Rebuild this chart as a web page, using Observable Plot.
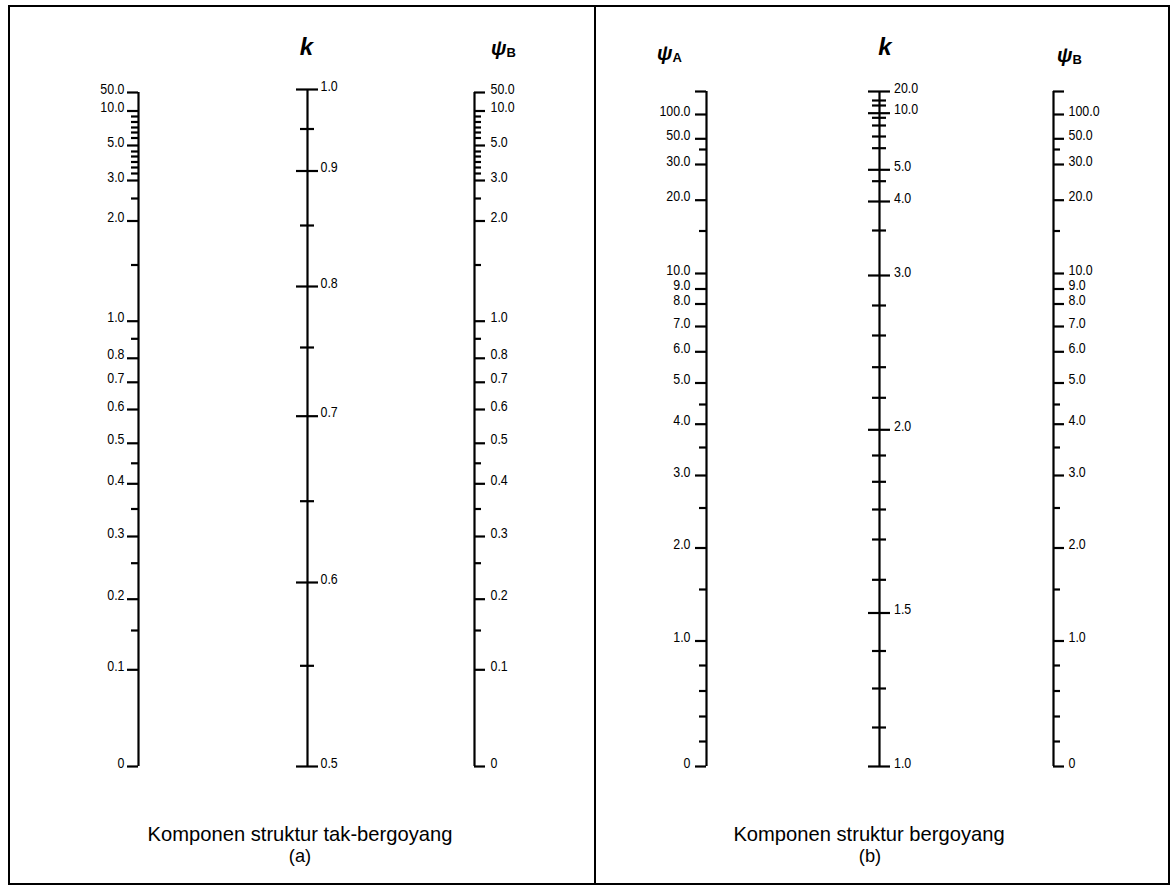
<!DOCTYPE html>
<html>
<head>
<meta charset="utf-8">
<script src="https://cdn.jsdelivr.net/npm/d3@7"></script>
<script src="https://cdn.jsdelivr.net/npm/@observablehq/plot@0.6"></script>
<style>
  html, body { margin: 0; padding: 0; background: #fff; }
  #fig { position: relative; width: 1176px; height: 891px; overflow: hidden; background: #fff; }
  .ax { position: absolute; top: 0; }
  #overlay { position: absolute; left: 0; top: 0; }
</style>
</head>
<body>
<div id="fig"></div>
<script>
// ---------------- data: tick values and labels of each scale ----------------
// Panel (a) – braced members (tak-bergoyang)
const psiTicksA  = [0,0.1,0.15,0.2,0.25,0.3,0.35,0.4,0.45,0.5,0.6,0.7,0.8,0.9,1,1.5,2,2.5,3,3.25,3.5,3.75,4,4.5,5,5.5,6,7,8,9,10,50];
const psiLabelsA = [0,0.1,0.2,0.3,0.4,0.5,0.6,0.7,0.8,1,2,3,5,10,50];
const kTicksA    = [0.5,0.55,0.6,0.65,0.7,0.75,0.8,0.85,0.9,0.95,1.0];
const kLabelsA   = [0.5,0.6,0.7,0.8,0.9,1.0];
// Panel (b) – sway members (bergoyang); 1000 stands for the unlabeled top end
const psiTicksB  = [0,0.2,0.4,0.6,0.8,1,1.5,2,2.5,3,3.5,4,4.5,5,6,7,8,9,10,15,20,30,40,50,100,1000];
const psiLabelsB = [0,1,2,3,4,5,6,7,8,9,10,20,30,50,100];
const kTicksB    = [1.0,1.2,1.3,1.4,1.5,1.55,1.6,1.7,1.8,1.9,2.0,2.2,2.4,2.6,2.8,3.0,3.5,4,4.5,5,6,7,8,9,10,12,15,20];
const kLabelsB   = [1,1.5,2,3,4,5,10,20];

// Titles / captions
const headers  = [
  {panel: "a", name: "k"},   {panel: "a", name: "ψ", sub: "B"},
  {panel: "b", name: "ψ", sub: "A"}, {panel: "b", name: "k"}, {panel: "b", name: "ψ", sub: "B"}
];
const captions = ["Komponen struktur tak-bergoyang", "(a)", "Komponen struktur bergoyang", "(b)"];

// ---------------- layout: nomograph graduation (px from top) ----------------
const psiScaleA = [766,669.3,630,598.7,562.7,536,508.5,483.3,462.8,442.8,409,381.8,357.8,338.3,320.7,264.5,220.5,198,180,173,167,161.5,156,151,145,137.5,132,127,121.5,116,110.5,92];
const kScaleA   = [766,665.3,582,500.7,415.7,347,286,225,170.5,128.5,89];
const psiScaleB = [766,741,716,690.5,665,640.5,589,547.5,507.5,475,447,423.7,404,382.5,351.3,326,303.5,288.5,273,230.5,199.7,164,149,138.3,114,91];
const kScaleB   = [766,727,688,650.5,612.5,579.3,539,509,481.3,455,429.3,397.3,366.7,335,305,275,230,201,180.7,169.3,147.7,136,125,117.3,112.7,105,100,91];

const axes = [
  {ticks: psiTicksA, labels: psiLabelsA, range: psiScaleA, cx: 138.3, side: -1, gap: 14},
  {ticks: kTicksA,   labels: kLabelsA,   range: kScaleA,   cx: 306.7, side: 0,  gap: 13},
  {ticks: psiTicksA, labels: psiLabelsA, range: psiScaleA, cx: 474,   side: 1,  gap: 16},
  {ticks: psiTicksB, labels: psiLabelsB, range: psiScaleB, cx: 706,   side: -1, gap: 16},
  {ticks: kTicksB,   labels: kLabelsB,   range: kScaleB,   cx: 879.3, side: 0,  gap: 14.5},
  {ticks: psiTicksB, labels: psiLabelsB, range: psiScaleB, cx: 1053.3, side: 1, gap: 15}
];

const FONT = '"Liberation Sans",Arial,Helvetica,sans-serif';
const NARROW_FACTOR = 0.8;   // mimic a condensed (Helvetica Narrow-like) face
const fmt = v => v === 0 ? "0" : v.toFixed(1);
const fig = document.getElementById("fig");
const HALF = 70;

function condense(root, factor) {
  root.querySelectorAll("text").forEach(t => {
    const w = t.getComputedTextLength();
    if (w > 0) {
      t.setAttribute("textLength", (w * factor).toFixed(2));
      t.setAttribute("lengthAdjust", "spacingAndGlyphs");
    }
  });
}

for (const a of axes) {
  const lo = d3.min(a.ticks), hi = d3.max(a.ticks);
  const isMajor = v => a.labels.includes(v) || v === lo || v === hi;
  const major = a.ticks.filter(isMajor);
  const minor = a.ticks.filter(v => !isMajor(v));
  const tick = len => a.side === 0 ? {x1: -len, x2: len} : {x1: 0, x2: a.side * len};
  const chart = Plot.plot({
    width: HALF * 2, height: 891, margin: 0,
    style: {background: "transparent", fontFamily: FONT},
    x: {type: "linear", domain: [-HALF, HALF], range: [0, HALF * 2], axis: null},
    y: {type: "linear", domain: a.ticks, range: a.range, axis: null},
    marks: [
      Plot.ruleX([0], {y1: lo, y2: hi, stroke: "#000", strokeWidth: 2.2}),
      Plot.ruleY(minor, {y: d => d, ...tick(7), stroke: "#000", strokeWidth: 2.2}),
      Plot.ruleY(major, {y: d => d, ...tick(11), stroke: "#000", strokeWidth: 2.2}),
      Plot.text(a.labels, {
        x: a.side < 0 ? -a.gap : a.gap, y: d => d, text: fmt,
        textAnchor: a.side < 0 ? "end" : "start", lineAnchor: "bottom", dy: 1,
        fontSize: 15.5, fill: "#000"
      })
    ]
  });
  chart.classList.add("ax");
  chart.style.left = (a.cx - HALF) + "px";
  fig.appendChild(chart);
  condense(chart, NARROW_FACTOR);
}

// ---------------- overlay: frame, headers, captions ----------------
const svg = d3.select(fig).append("svg").attr("id", "overlay").attr("width", 1176).attr("height", 891);
svg.append("rect").attr("x", 9).attr("y", 6).attr("width", 1160).attr("height", 878)
  .attr("fill", "none").attr("stroke", "#000").attr("stroke-width", 2);
svg.append("line").attr("x1", 595).attr("x2", 595).attr("y1", 6).attr("y2", 884)
  .attr("stroke", "#000").attr("stroke-width", 2);

const headPos = [
  {x: 306.5, y: 55, anchor: "middle"},
  {x: 491,   y: 55, anchor: "start"},
  {x: 657,   y: 60, anchor: "start"},
  {x: 885,   y: 55, anchor: "middle"},
  {x: 1057,  y: 62, anchor: "start"}
];
headers.forEach((h, i) => {
  const p = headPos[i];
  const t = svg.append("text").attr("x", p.x).attr("y", p.y).attr("text-anchor", p.anchor)
    .attr("font-family", FONT).attr("font-weight", "bold")
    .attr("font-style", "italic").attr("fill", "#000");
  t.append("tspan").attr("font-size", h.sub ? 20 : 24).text(h.name);
  if (h.sub) t.append("tspan").attr("font-size", 13).attr("font-style", "normal").attr("dy", 2).text(h.sub);
});

const capPos = [
  {x: 300, y: 841, size: 21}, {x: 300, y: 862, size: 19},
  {x: 869, y: 841, size: 21}, {x: 870, y: 862, size: 19}
];
const capGroup = svg.append("g");
captions.forEach((c, i) => {
  const p = capPos[i];
  capGroup.append("text").attr("x", p.x).attr("y", p.y).attr("text-anchor", "middle")
    .attr("font-family", FONT).attr("font-size", p.size).attr("fill", "#000").text(c);
});
condense(capGroup.node(), 0.96);
</script>
</body>
</html>
